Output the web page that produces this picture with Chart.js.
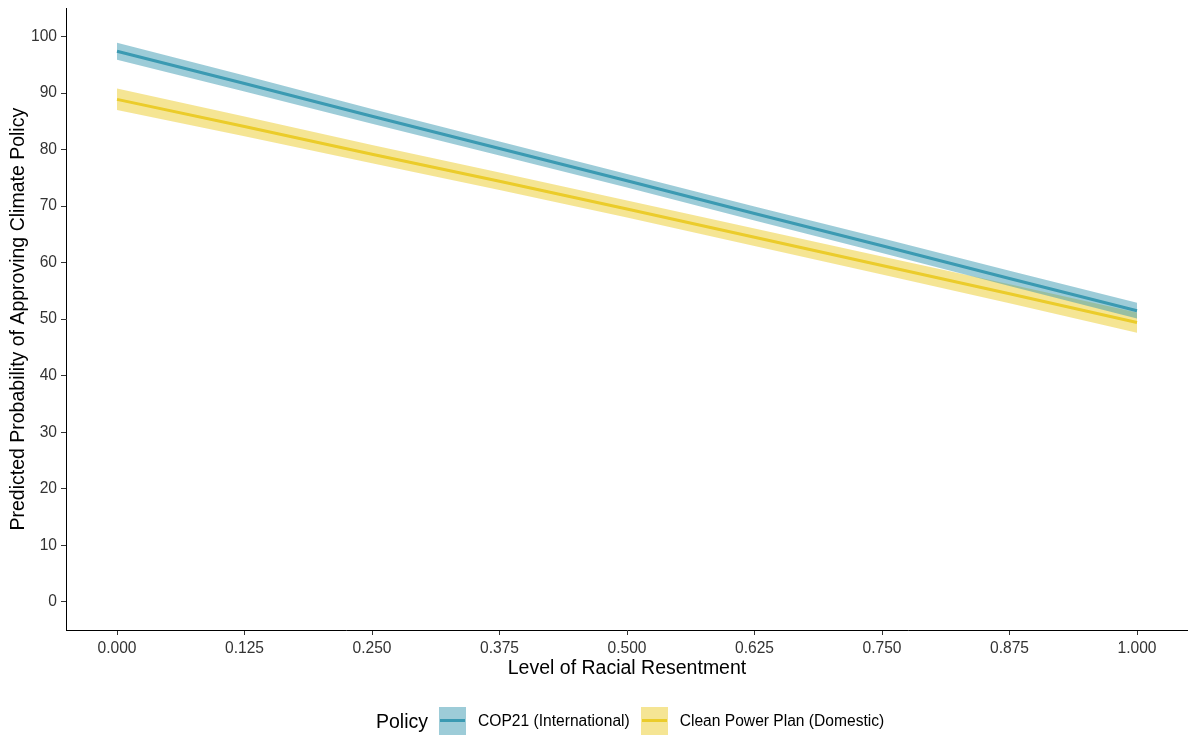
<!DOCTYPE html>
<html>
<head>
<meta charset="utf-8">
<script src="https://cdn.jsdelivr.net/npm/chart.js@4"></script>
<style>
  body { margin: 0; background: #fff; font-family: "Liberation Sans", Arial, sans-serif; }
  #wrap { position: relative; width: 1188px; height: 735px; overflow: hidden; }
  #chart { position: absolute; left: 0; top: -5px; }
  #legend { position: absolute; left: 376px; top: 707px; height: 28px;
            display: flex; align-items: center; }
  #legend .title { font-size: 19.5px; color: #000; margin-right: 11px; }
  #legend .key { width: 27px; height: 28px; position: relative; margin-right: 12px; }
  #legend .key span { position: absolute; left: 1px; right: 1px; top: 12px; height: 3px; }
  #legend .lbl { font-size: 15.6px; color: #000; margin-right: 11px; }
</style>
</head>
<body>
<div id="wrap">
  <canvas id="chart" width="1188" height="740"></canvas>
  <div id="legend"></div>
</div>
<script>
// niveles de resentimiento (eje x)
const resentment = [0, 0.125, 0.25, 0.375, 0.5, 0.625, 0.75, 0.875, 1];
const yTicks = [0, 10, 20, 30, 40, 50, 60, 70, 80, 90, 100];

// COP21 (International)
const cop21Fit   = [97.4, 91.7, 85.9, 80.2, 74.5, 68.7, 63.0, 57.2, 51.5];
const cop21Upper = [98.9, 93.1, 87.2, 81.45, 75.7, 69.95, 64.3, 58.55, 52.9];
const cop21Lower = [95.9, 90.3, 84.6, 78.95, 73.3, 67.45, 61.7, 55.85, 50.1];

// Clean Power Plan (Domestic)
const cppFit   = [88.9, 84.1, 79.2, 74.4, 69.5, 64.5, 59.5, 54.5, 49.4];
const cppUpper = [90.8, 85.85, 80.8, 75.95, 71.0, 66.05, 61.1, 56.2, 51.2];
const cppLower = [87.0, 82.35, 77.6, 72.85, 68.0, 62.95, 57.9, 52.8, 47.6];

const policies = ['COP21 (International)', 'Clean Power Plan (Domestic)'];
const lineColors = ['#3B9AB2', '#EBCC2A'];
const bandColors = ['rgba(59,154,178,0.5)', 'rgba(235,204,42,0.5)'];

const pts = arr => arr.map((v, i) => ({ x: resentment[i], y: v }));

const bandDs = (data, fill, color) => ({
    data: pts(data),
    borderWidth: 0,
    pointRadius: 0,
    backgroundColor: color,
    fill: fill,
    order: 2,
});

const tickFont = { family: 'Liberation Sans', size: 15.6 };
const titleFont = { family: 'Liberation Sans', size: 19.5 };

const ctx = document.getElementById('chart').getContext('2d');
new Chart(ctx, {
    type: 'line',
    data: {
        datasets: [
            bandDs(cop21Upper, '+1', bandColors[0]),
            bandDs(cop21Lower, false, bandColors[0]),
            bandDs(cppUpper, '+1', bandColors[1]),
            bandDs(cppLower, false, bandColors[1]),
            { label: policies[0], data: pts(cop21Fit), borderColor: lineColors[0], borderWidth: 3,
              pointRadius: 0, fill: false, order: 1 },
            { label: policies[1], data: pts(cppFit), borderColor: lineColors[1], borderWidth: 3,
              pointRadius: 0, fill: false, order: 1 },
        ],
    },
    options: {
        responsive: false,
        animation: false,
        layout: { padding: { top: 0, right: 0, bottom: 50, left: 0 } },
        scales: {
            x: {
                type: 'linear',
                min: -0.05,
                max: 1.05,
                afterBuildTicks: s => { s.ticks = resentment.map(v => ({ value: v })); },
                afterFit: s => { s.height = 55; },
                ticks: {
                    color: '#333',
                    font: tickFont,
                    padding: 4,
                    maxRotation: 0,
                    callback: v => v.toFixed(3),
                },
                grid: { drawOnChartArea: false, drawTicks: true, tickLength: 5, color: '#333' },
                border: { display: true, color: '#000', width: 1 },
                title: {
                    display: true,
                    text: 'Level of Racial Resentment',
                    color: '#000',
                    font: titleFont,
                    padding: { top: 2, bottom: 5 },
                },
            },
            y: {
                min: -5,
                max: 105,
                afterBuildTicks: s => { s.ticks = yTicks.map(v => ({ value: v })); },
                afterFit: s => { s.width = 66; },
                ticks: {
                    color: '#333',
                    font: tickFont,
                    padding: 4,
                },
                grid: { drawOnChartArea: false, drawTicks: true, tickLength: 5, color: '#333' },
                border: { display: true, color: '#000', width: 1 },
                title: {
                    display: true,
                    text: 'Predicted Probability of Approving Climate Policy',
                    color: '#000',
                    font: titleFont,
                    padding: { top: 7, bottom: 4 },
                },
            },
        },
        plugins: {
            legend: { display: false },
            tooltip: { enabled: false },
            filler: { drawTime: 'beforeDatasetsDraw' },
        },
    },
});

// leyenda en HTML (título en línea como en ggplot)
const legend = document.getElementById('legend');
let html = '<span class="title">Policy</span>';
policies.forEach((p, i) => {
    html += `<div class="key" style="background:${bandColors[i]}"><span style="background:${lineColors[i]}"></span></div>`;
    html += `<span class="lbl">${p}</span>`;
});
legend.innerHTML = html;
</script>
</body>
</html>
